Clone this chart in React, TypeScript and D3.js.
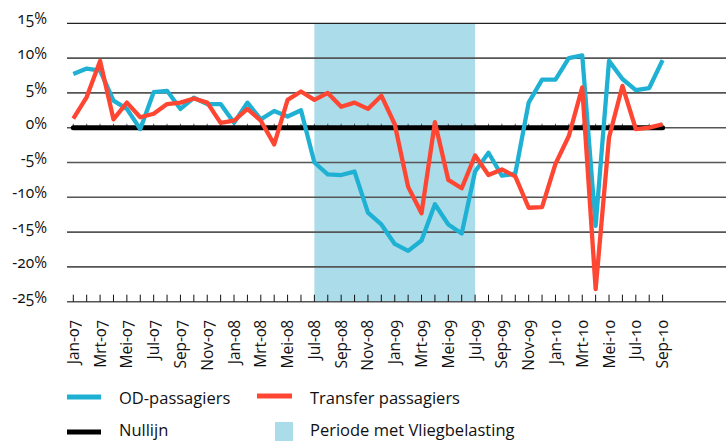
import React from 'react';
import * as d3 from 'd3';

// maanden Jan-07 .. Sep-10
const months = [
  'Jan-07', 'Feb-07', 'Mrt-07', 'Apr-07', 'Mei-07', 'Jun-07', 'Jul-07', 'Aug-07', 'Sep-07', 'Okt-07', 'Nov-07', 'Dec-07',
  'Jan-08', 'Feb-08', 'Mrt-08', 'Apr-08', 'Mei-08', 'Jun-08', 'Jul-08', 'Aug-08', 'Sep-08', 'Okt-08', 'Nov-08', 'Dec-08',
  'Jan-09', 'Feb-09', 'Mrt-09', 'Apr-09', 'Mei-09', 'Jun-09', 'Jul-09', 'Aug-09', 'Sep-09', 'Okt-09', 'Nov-09', 'Dec-09',
  'Jan-10', 'Feb-10', 'Mrt-10', 'Apr-10', 'Mei-10', 'Jun-10', 'Jul-10', 'Aug-10', 'Sep-10',
];

const odPassagiers = [
  7.7, 8.5, 8.2, 3.9, 2.7, -0.2, 5.1, 5.3, 2.7, 4.3, 3.4, 3.4,
  0.7, 3.6, 1.2, 2.4, 1.6, 2.5, -5.0, -6.7, -6.8, -6.3, -12.2, -13.9,
  -16.7, -17.7, -16.2, -11.0, -13.9, -15.2, -6.3, -3.6, -6.9, -6.6, 3.6, 6.9,
  6.9, 10.0, 10.4, -14.1, 9.6, 7.0, 5.4, 5.7, 9.7,
];

const transferPassagiers = [
  1.3, 4.4, 9.6, 1.2, 3.6, 1.5, 2.0, 3.4, 3.6, 4.2, 3.6, 0.7,
  1.0, 2.7, 1.0, -2.4, 4.0, 5.2, 4.0, 5.0, 3.0, 3.6, 2.7, 4.6,
  0.5, -8.5, -12.3, 0.8, -7.5, -8.7, -4.0, -6.8, -6.0, -7.0, -11.5, -11.4,
  -5.2, -1.2, 5.8, -23.2, -1.4, 6.0, -0.2, 0.0, 0.5,
];

const yTicks = [15, 10, 5, 0, -5, -10, -15, -20, -25];
const labelMonths = months.filter((_, i) => i % 2 === 0);
const periodStart = 'Jul-08';
const periodEnd = 'Jul-09';

const BLUE = '#1fb1d3';
const RED = '#ff4632';
const BAND = '#abdce9';
const FONT = '"Open Sans", sans-serif';

export default function App() {
  const width = 726;
  const height = 441;

  const x = d3.scalePoint<string>().domain(months).range([73.3, 662.6]);
  const y = d3.scaleLinear().domain([-25, 15]).range([301.7, 23.3]);

  const line = d3
    .line<number>()
    .x((_, i) => x(months[i]) as number)
    .y((d) => y(d));

  const gridLeft = 67;
  const gridRight = 726;
  const x0 = x(months[0]) as number;
  const x1 = x(months[months.length - 1]) as number;

  return (
    <svg
      width={width}
      height={height}
      style={{ position: 'absolute', left: 0, top: 0, fontFamily: FONT, fontVariantNumeric: 'oldstyle-nums' }}
    >
      <rect x={0} y={0} width={width} height={height} fill="#fff" />

      {/* periode met vliegbelasting */}
      <rect
        x={x(periodStart)}
        y={y(15)}
        width={(x(periodEnd) as number) - (x(periodStart) as number)}
        height={y(-25) - y(15)}
        fill={BAND}
      />

      {/* gridlijnen */}
      {yTicks.map((t) => (
        <line
          key={t}
          x1={gridLeft}
          x2={gridRight}
          y1={y(t)}
          y2={y(t)}
          stroke={t === 15 ? '#222' : '#555'}
          strokeWidth={t === 15 ? 1.2 : 1.6}
        />
      ))}

      {/* tick labels y */}
      {yTicks.map((t) => (
        <text key={t} x={47} y={y(t) + 1} textAnchor="end" fontSize={15.5} fill="#111">
          {t}%
        </text>
      ))}

      {/* ticks op de x-as */}
      {months.map((m) => (
        <g key={m}>
          <line x1={x(m)} x2={x(m)} y1={y(-25) - 7} y2={y(-25)} stroke="#111" strokeWidth={1} />
          <line x1={x(m)} x2={x(m)} y1={y(0) - 4} y2={y(0)} stroke="#333" strokeWidth={0.8} />
        </g>
      ))}

      {/* maandlabels */}
      {labelMonths.map((m) => (
        <text
          key={m}
          transform={`translate(${(x(m) as number) + 5.5},320) rotate(-90)`}
          textAnchor="end"
          fontSize={15.5}
          fill="#111"
        >
          {m}
        </text>
      ))}

      {/* nullijn */}
      <line x1={x0} x2={x1} y1={y(0)} y2={y(0)} stroke="#000" strokeWidth={5} strokeLinecap="round" />

      <path d={line(odPassagiers) ?? ''} fill="none" stroke={BLUE} strokeWidth={4.3} strokeLinejoin="round" />
      <path d={line(transferPassagiers) ?? ''} fill="none" stroke={RED} strokeWidth={4.3} strokeLinejoin="round" />

      {/* legenda */}
      <line x1={67} x2={101} y1={397} y2={397} stroke={BLUE} strokeWidth={5} />
      <text x={119} y={404} fontSize={16.5} fill="#111">OD-passagiers</text>
      <line x1={257} x2={292} y1={396} y2={396} stroke={RED} strokeWidth={5} />
      <text x={310} y={404} fontSize={16.5} fill="#111">Transfer passagiers</text>
      <line x1={67} x2={101} y1={432} y2={432} stroke="#000" strokeWidth={5} />
      <text x={119} y={436} fontSize={16.5} fill="#111">Nullijn</text>
      <rect x={275} y={422} width={18} height={19} fill={BAND} />
      <text x={310} y={436} fontSize={16.5} fill="#111">Periode met Vliegbelasting</text>
    </svg>
  );
}
